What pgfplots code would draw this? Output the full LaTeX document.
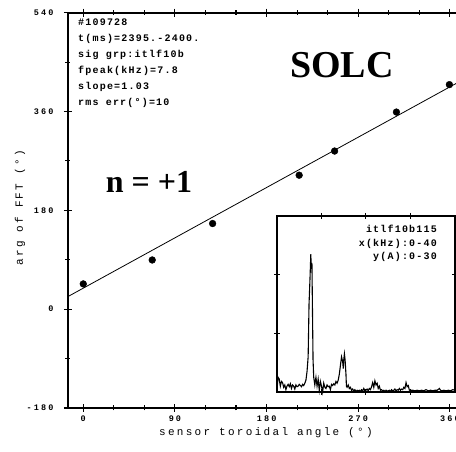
\documentclass[border=0pt]{standalone}
\usepackage{fontspec}
\usepackage{pgfplots}
\pgfplotsset{compat=1.18}
\setmainfont{Liberation Serif}
\newfontfamily\tickfont[LetterSpace=25]{Liberation Mono}
\newfontfamily\labfont[LetterSpace=21]{Liberation Mono}
\newfontfamily\infofont[LetterSpace=12]{Liberation Mono}
\begin{document}
\begin{tikzpicture}[x=1pt,y=1pt]
\begin{axis}[at={(68pt,44pt)}, anchor=south west, scale only axis,
  width=388pt, height=395.3pt,
  xmin=-15, xmax=366, ymin=-180, ymax=540,
  axis x line*=box, axis y line*=left,
  xtick={0,90,180,270,360}, ytick={-180,0,180,360,540},
  minor x tick num=2, minor y tick num=1,
  tick align=center, major tick length=8pt, minor tick length=5pt,
  every tick/.style={line width=1.1pt, black},
  axis line style={line width=1.8pt},
  /pgf/number format/assume math mode=true,
  ticklabel style={font=\tickfont\bfseries\fontsize{8.5}{8.5}\selectfont},
  yticklabel style={xshift=-7pt},
  xlabel={sensor toroidal angle (°)},
  ylabel={arg of FFT (°)},
  label style={font=\labfont\fontsize{11}{11}\selectfont},
  xlabel style={at={(axis description cs:0.51,-0.063)}, anchor=center},
  ylabel style={at={(axis description cs:-0.1237,0.506)}, anchor=center, rotate=0},
  clip=false,
]
\addplot[black, line width=0.8pt, no marks] coordinates {(-15,23) (366,411)};
\addplot[only marks, mark=*, mark size=3.4pt, black] coordinates {
 (0,46) (67.7,89.6) (127,156) (212,244) (246.8,288) (307.5,359) (359.5,409)};
\begin{scope}[every node/.style={anchor=west, inner sep=0pt, font=\infofont\bfseries\fontsize{10}{10}\selectfont}]
\node at (axis description cs:0.0258,0.9753) {\#109728};
\node at (axis description cs:0.0258,0.9348) {t(ms)=2395.-2400.};
\node at (axis description cs:0.0258,0.8944) {sig grp:itlf10b};
\node at (axis description cs:0.0258,0.8539) {fpeak(kHz)=7.8};
\node at (axis description cs:0.0258,0.8134) {slope=1.03};
\node at (axis description cs:0.0258,0.7729) {rms err(°)=10};
\end{scope}
\node[font=\bfseries\fontsize{38}{38}\selectfont, inner sep=0pt] at (axis description cs:0.706,0.8664) {SOLC};
\node[font=\bfseries\fontsize{32}{32}\selectfont, inner sep=0pt] at (axis description cs:0.2088,0.5717) {n = +1};
\end{axis}
\begin{axis}[at={(277pt,60pt)}, anchor=south west, scale only axis,
  width=178pt, height=176pt,
  xmin=0, xmax=40, ymin=0, ymax=30,
  xtick={10,20,30}, ytick={10,20}, xticklabels={}, yticklabels={},
  tick align=center, major tick length=6pt,
  every tick/.style={line width=1pt, black},
  axis line style={line width=1.3pt},
  axis background/.style={fill=white},
  clip=false,
]
\addplot[black, line width=1.1pt, no marks] coordinates {
(0.0,0.5) (0.25,2.5) (0.5,2.2) (0.75,1.0) (1.0,1.8) (1.25,1.6) (1.5,0.8) (1.75,1.2)
(2.0,0.4) (2.25,1.0) (2.5,1.3) (2.75,0.9) (3.0,1.4) (3.25,0.6) (3.5,1.2) (3.75,1.0)
(4.0,0.5) (4.25,1.2) (4.5,0.9) (4.75,1.0) (5.0,1.3) (5.25,1.1) (5.5,0.9) (5.75,1.3)
(6.0,1.1) (6.25,1.5) (6.5,2.0) (6.75,3.5) (7.0,6.0) (7.2,15) (7.4,19) (7.6,23.5)
(7.7,21) (7.85,22) (8.0,12) (8.1,5.5) (8.25,2.5) (8.5,1.2) (8.75,2.5) (9.0,1.0)
(9.25,2.2) (9.5,0.3) (9.75,1.8) (10.0,1.0) (10.25,0.0) (10.5,1.5) (10.75,0.8) (11.0,0.6)
(11.25,1.2) (11.5,0.9) (11.75,1.0) (12.0,0.4) (12.25,1.3) (12.5,1.1) (12.75,1.4) (13.0,1.2)
(13.25,1.8) (13.5,1.5) (13.75,2.0) (14.0,3.0) (14.25,4.5) (14.5,6.0) (14.75,5.2) (14.9,4.0)
(15.0,5.5) (15.15,6.5) (15.3,5.5) (15.5,3.0) (15.6,1.0) (15.75,0.8) (16.0,1.2) (16.25,0.6)
(16.5,0.8) (16.75,0.3) (17.0,0.5) (17.25,0.2) (17.5,0.4) (17.75,0.1) (18.0,0.3) (18.25,0.2)
(18.5,0.3) (18.75,0.1) (19.0,0.4) (19.25,0.2) (19.5,0.6) (19.75,0.2) (20.0,0.3) (20.25,0.5)
(20.5,0.2) (20.75,0.6) (21.0,0.4) (21.25,0.9) (21.5,1.6) (21.75,0.8) (22.0,1.9) (22.25,1.2)
(22.5,1.5) (22.75,0.6) (23.0,1.0) (23.25,0.3) (23.5,0.4) (23.75,0.2) (24.0,0.3) (24.25,0.1)
(24.5,0.3) (24.75,0.2) (25.0,0.2) (25.25,0.3) (25.5,0.1) (25.75,0.4) (26.0,0.2) (26.25,0.3)
(26.5,0.5) (26.75,0.2) (27.0,0.4) (27.25,0.3) (27.5,0.6) (27.75,0.3) (28.0,0.5) (28.25,0.4)
(28.5,0.8) (28.75,0.6) (29.0,1.6) (29.25,0.9) (29.5,1.1) (29.75,0.3) (30.0,0.4) (30.25,0.2)
(30.5,0.3) (31.0,0.2) (31.5,0.3) (32.0,0.2) (32.5,0.3) (33.0,0.2) (33.5,0.4) (34.0,0.2)
(34.5,0.3) (35.0,0.2) (35.5,0.3) (36.0,0.3) (36.5,0.6) (36.75,0.3) (37.0,0.2) (37.5,0.3)
(38.0,0.2) (38.5,0.3) (39.0,0.2) (39.5,0.4) (40.0,0.3)};
\begin{scope}[every node/.style={anchor=east, inner sep=0pt, font=\infofont\bfseries\fontsize{10}{10}\selectfont}]
\node at (axis description cs:0.899,0.926) {itlf10b115};
\node at (axis description cs:0.899,0.841) {x(kHz):0-40};
\node at (axis description cs:0.899,0.767) {y(A):0-30};
\end{scope}
\end{axis}
\pgfresetboundingbox
\useasboundingbox (0,0) rectangle (456pt,452pt);
\end{tikzpicture}
\end{document}
